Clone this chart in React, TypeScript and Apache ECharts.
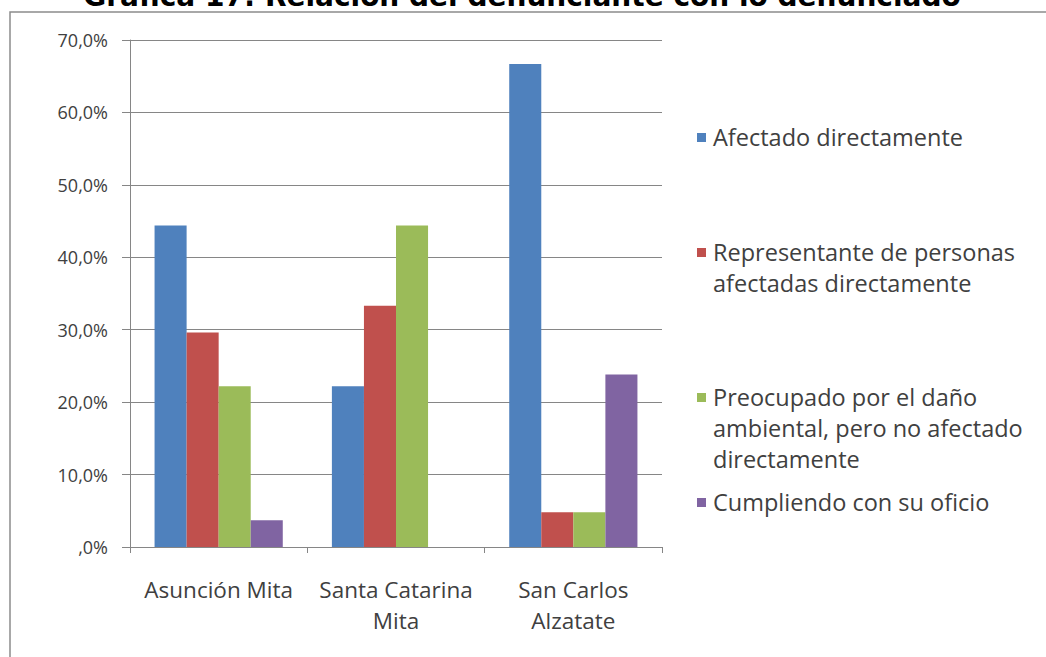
import React, { useEffect, useRef } from "react";
import * as echarts from "echarts";

const categories = ["Asunción Mita", "Santa Catarina\nMita", "San Carlos\nAlzatate"];
const seriesNames = [
  "Afectado directamente",
  "Representante de personas\nafectadas directamente",
  "Preocupado por el daño\nambiental, pero no afectado\ndirectamente",
  "Cumpliendo con su oficio",
];
const afectado = [44.4, 22.2, 66.7];
const representante = [29.6, 33.3, 4.8];
const preocupado = [22.2, 44.4, 4.8];
const cumpliendo = [3.7, 0, 23.8];
const seriesValues = [afectado, representante, preocupado, cumpliendo];
const colors = ["#4F81BD", "#C0504D", "#9BBB59", "#8064A2"];
const yTicks = [0, 10, 20, 30, 40, 50, 60, 70];
const title = "Gráfica 17: Relación del denunciante con lo denunciado";

const FONT = "'Open Sans', sans-serif";
const legendTops = [137, 252, 397, 502];
const LINE_H = 31;

export default function App() {
  const ref = useRef<HTMLDivElement>(null);
  useEffect(() => {
    document.body.style.margin = "0";
    const chart = echarts.init(ref.current!, null, { renderer: "svg" });
    const legendGraphics: any[] = [];
    seriesNames.forEach((name, i) => {
      const y = legendTops[i];
      legendGraphics.push({
        type: "rect",
        shape: { x: 697, y: y - 4, width: 9, height: 9 },
        style: { fill: colors[i] },
      });
      legendGraphics.push({
        type: "text",
        x: 713,
        y: y - LINE_H / 2,
        style: {
          text: name,
          font: `23.5px ${FONT}`,
          fill: "#404040",
          lineHeight: LINE_H,
          verticalAlign: "top",
        },
      });
    });
    chart.setOption({
      animation: false,
      backgroundColor: "#ffffff",
      grid: { left: 130, right: 384, top: 40, bottom: 110, containLabel: false },
      xAxis: {
        type: "category",
        data: categories,
        axisLine: { lineStyle: { color: "#868686" } },
        axisTick: { show: true, length: 6, lineStyle: { color: "#868686" } },
        axisLabel: {
          interval: 0,
          hideOverlap: false,
          color: "#404040",
          fontFamily: FONT,
          fontSize: 22.5,
          lineHeight: 31,
          margin: 27,
          verticalAlign: "top",
        },
      },
      yAxis: {
        type: "value",
        min: 0,
        max: 70,
        interval: 10,
        axisLine: { show: true, lineStyle: { color: "#868686" } },
        axisTick: { show: true, length: 8, lineStyle: { color: "#868686" } },
        splitLine: { lineStyle: { color: "#868686" } },
        axisLabel: {
          color: "#404040",
          fontFamily: FONT,
          fontSize: 18,
          margin: 22,
          formatter: (v: number) =>
            yTicks.includes(v) ? (v === 0 ? ",0%" : v.toFixed(1).replace(".", ",") + "%") : "",
        },
      },
      series: seriesNames.map((name, i) => ({
        name,
        type: "bar",
        data: seriesValues[i],
        barGap: "0%",
        barCategoryGap: "27.7%",
        itemStyle: { color: colors[i] },
      })),
      graphic: [
        {
          type: "rect",
          shape: { x: 10, y: 12, width: 1200, height: 800 },
          style: { fill: "none", stroke: "#8c8c8c", lineWidth: 1.5 },
          silent: true,
        },
        {
          type: "text",
          x: 522,
          y: 10,
          style: {
            text: title,
            font: `bold 28px 'DejaVu Sans', sans-serif`,
            fill: "#000000",
            align: "center",
            verticalAlign: "bottom",
          },
        },
        ...legendGraphics,
      ],
    });
    return () => chart.dispose();
  }, []);
  return <div ref={ref} style={{ width: 1046, height: 657 }} />;
}
